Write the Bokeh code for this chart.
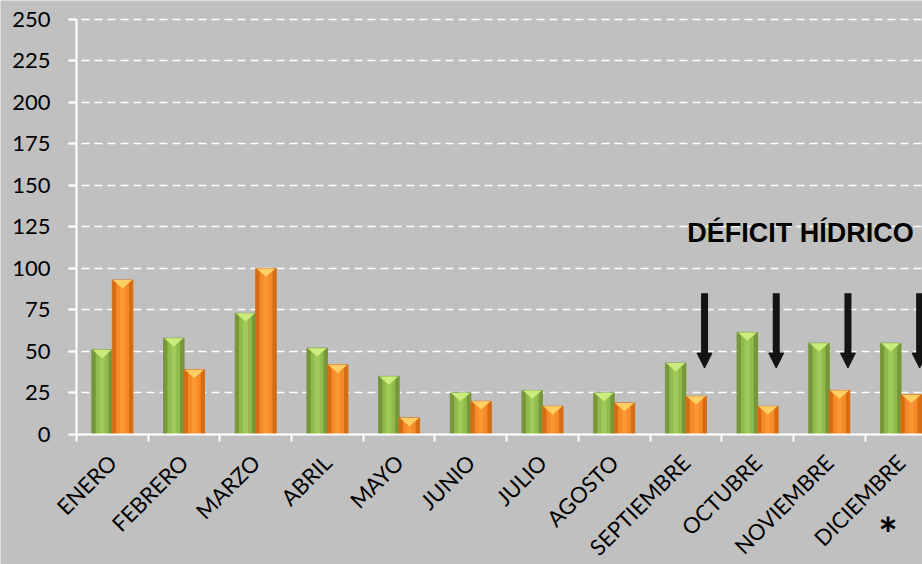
import math
from bokeh.plotting import figure
from bokeh.models import (Range1d, FixedTicker, Label, Arrow, NormalHead, BoxAnnotation)
from bokeh.embed import file_html
from bokeh.resources import INLINE

# ---------------- data ----------------
months = ["ENERO", "FEBRERO", "MARZO", "ABRIL", "MAYO", "JUNIO", "JULIO",
          "AGOSTO", "SEPTIEMBRE", "OCTUBRE", "NOVIEMBRE", "DICIEMBRE"]
serie_verde = [51, 58, 73, 52, 35, 25, 26.5, 25, 43, 61.5, 55, 55]
serie_naranja = [93, 39, 100, 42, 10, 20, 17, 19, 23, 17, 26.5, 24]
y_ticks = [0, 25, 50, 75, 100, 125, 150, 175, 200, 225, 250]
deficit_months = ["SEPTIEMBRE", "OCTUBRE", "NOVIEMBRE", "DICIEMBRE"]
arrow_from, arrow_to = 85, 40
deficit_text = "DÉFICIT HÍDRICO"
note_mark = "*"

# ---------------- figure ----------------
BG = "#c0c0c0"
X0, X1 = -0.5, 11.30          # category axis extent (left axis sits at X0)
p = figure(width=922, height=564, output_backend="svg", toolbar_location=None,
           x_range=Range1d(-1.56, X1), y_range=Range1d(-78.3, 261.4),
           min_border=0)
p.background_fill_color = BG
p.border_fill_color = BG
p.outline_line_color = None

bw = 0.286
xs = list(range(len(months)))
xg = [x - bw / 2 for x in xs]
xo = [x + bw / 2 for x in xs]

def draw_bars(xc, vals, edge, main, light, bevel):
    p.vbar(x=xc, top=vals, width=bw, fill_color=edge, line_color=edge, line_width=1)
    p.vbar(x=xc, top=vals, width=bw * 0.62, fill_color=main, line_color=None)
    p.vbar(x=xc, top=vals, width=bw * 0.25, fill_color=light, line_color=None, fill_alpha=0.6)
    d = 5.0
    px = [[x - bw / 2 + 0.01, x + bw / 2 - 0.01, x] for x in xc]
    py = [[v, v, v - d] for v in vals]
    p.patches(px, py, fill_color=bevel, line_color=None)

draw_bars(xg, serie_verde, "#76973a", "#92bb4d", "#a8d260", "#c9ec7c")
draw_bars(xo, serie_naranja, "#d66d14", "#f58a26", "#ff9f3f", "#ffcf66")

# arrows
for m in deficit_months:
    xa = months.index(m) + 0.26
    p.add_layout(Arrow(x_start=xa, y_start=arrow_from, x_end=xa, y_end=arrow_to,
                       line_color="#141414", line_width=7,
                       end=NormalHead(size=15, fill_color="#141414", line_color="#141414")))

p.add_layout(Label(x=8.02, y=121.5, text=deficit_text, text_font="Liberation Sans",
                   text_font_style="bold", text_font_size="27px", text_color="black",
                   text_baseline="middle"))
p.add_layout(Label(x=10.82, y=-59.5, text=note_mark, text_font="Lato",
                   text_font_style="bold", text_font_size="46px", text_color="black",
                   text_align="center", text_baseline="middle"))

# grid
grid = p.ygrid[0]
grid.ticker = FixedTicker(ticks=y_ticks[1:])
grid.grid_line_color = "white"
grid.grid_line_width = 1.6
grid.grid_line_dash = "8 5"
if "cross_bounds" in grid.properties():
    grid.cross_bounds = (X0 - 0.11, X1)
else:
    p.add_layout(BoxAnnotation(right=X0 - 0.11, fill_color=BG, fill_alpha=1,
                               line_color=None, level="underlay"))
p.xgrid.grid_line_color = None

# axes
yax = p.yaxis[0]
yax.fixed_location = X0
yax.ticker = FixedTicker(ticks=y_ticks)
yax.bounds = (0, 250)
yax.axis_line_color = "white"
yax.axis_line_width = 2
yax.major_tick_line_color = "white"
yax.major_tick_line_width = 2
yax.major_tick_out = 8
yax.major_tick_in = 0
yax.minor_tick_line_color = None
yax.major_label_text_font = "Lato"
yax.major_label_text_font_size = "22px"
yax.major_label_text_color = "black"
yax.major_label_standoff = 18

xax = p.xaxis[0]
xax.fixed_location = 0
xax.bounds = (X0, X1)
xax.ticker = FixedTicker(ticks=xs, minor_ticks=[x - 0.5 for x in xs] + [len(xs) - 0.5])
xax.major_label_overrides = {i: m for i, m in enumerate(months)}
xax.major_label_orientation = math.pi / 4
xax.major_label_text_font = "Lato"
xax.major_label_text_font_size = "22px"
xax.major_label_text_color = "black"
xax.major_label_standoff = 17
xax.axis_line_color = "white"
xax.axis_line_width = 2
xax.major_tick_line_color = None
xax.minor_tick_line_color = "white"
xax.minor_tick_line_width = 2
xax.minor_tick_out = 7
xax.minor_tick_in = 0

open("out.html", "w").write(file_html(p, INLINE))
